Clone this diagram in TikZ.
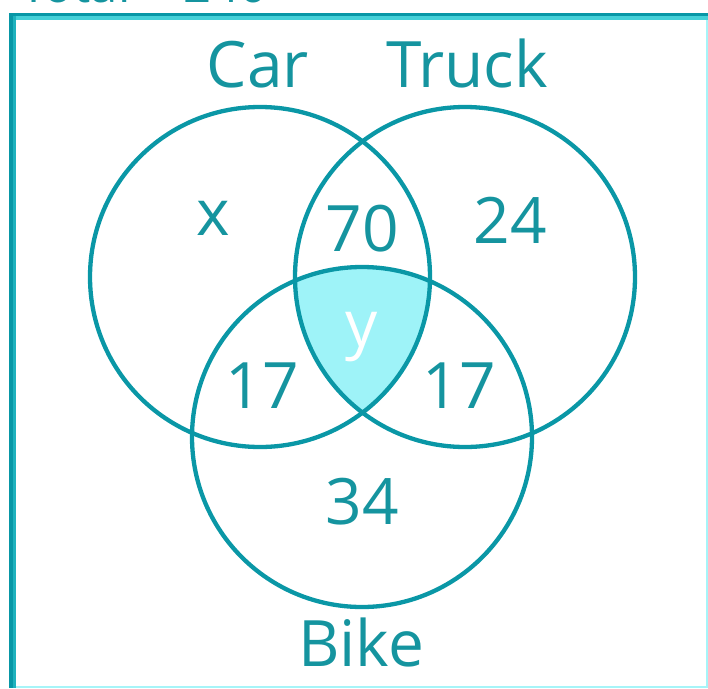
\documentclass[tikz,border=0pt]{standalone}
\usepackage{fontspec}
\setmainfont{Open Sans}
\definecolor{ringc}{HTML}{0A97A6}
\definecolor{lblc}{HTML}{15949F}
\definecolor{shadec}{HTML}{9EF3F8}
\definecolor{frameA}{HTML}{0897A6}
\definecolor{frameB}{HTML}{1FB2BE}
\definecolor{frameC}{HTML}{45D0D8}
\definecolor{frameD}{HTML}{A6F4F8}
\begin{document}
\begin{tikzpicture}[x=1pt,y=-1pt,
  setring/.style={circle,draw=ringc,line width=4.3pt,minimum size=340pt,inner sep=0pt},
  lbl/.style={text=lblc,font=\fontsize{64}{70}\selectfont,inner sep=0pt,anchor=base},
  toplbl/.style={text=lblc,font=\fontsize{49}{54}\selectfont,inner sep=0pt,anchor=base west}]
\useasboundingbox (0,0) rectangle (708,688);
% frame
\fill[frameD] (706,13) rectangle (708,688);
\fill[frameD] (9,686) rectangle (708,688);
\fill[frameC] (9,16) rectangle (708,20);
\fill[frameA] (9,13) rectangle (708,16);
\fill[frameA] (9,13) rectangle (13,688);
\fill[frameB] (13,16) rectangle (16,688);
% circle centres
\coordinate (carc) at (260,277);
\coordinate (truckc) at (465,277);
\coordinate (bikec) at (362,437);
% shaded triple intersection
\begin{scope}
  \clip (carc) circle (170pt);
  \clip (truckc) circle (170pt);
  \fill[shadec] (bikec) circle (170pt);
\end{scope}
\node[setring] (car) at (carc) {};
\node[setring] (truck) at (truckc) {};
\node[setring] (bike) at (bikec) {};
% labels
\node[toplbl] (total) at (20,2.5) {Total = 240};
\node[lbl] (carl) at (258,87) {Car};
\node[lbl] (truckl) at (467,87) {Truck};
\node[lbl] (bikel) at (361,666) {Bike};
\node[lbl] (nx) at (213,235) {x};
\node[lbl] (n70) at (362,251) {70};
\node[lbl] (n24) at (510,243) {24};
\node[lbl,text=white] (ny) at (362,346) {y};
\node[lbl] (n17a) at (262,408) {17};
\node[lbl] (n17b) at (459,408) {17};
\node[lbl] (n34) at (362,524) {34};
\end{tikzpicture}
\end{document}
